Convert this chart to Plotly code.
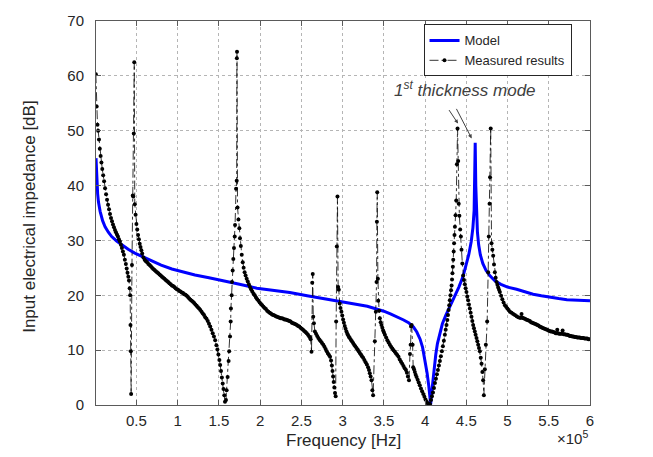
import plotly.graph_objects as go

# ---------------- data ----------------
# Frequency in kHz (axis tick labels are in units of 1e5 Hz), impedance in dB
model_freq = [1, 1.5, 2, 3, 4, 6, 9, 12, 16, 20, 26, 32, 40, 48, 58, 68, 80, 93, 107, 121,
              138, 155, 175, 196, 216, 236, 257, 277, 297, 317, 330, 341, 350, 358, 366, 374,
              380, 386, 390, 394, 397, 400, 402.5, 404.5, 406, 406.8, 407.5, 409, 411, 413,
              415, 418, 421, 425, 430, 436, 441, 446, 450, 453, 456, 458, 459.5, 460.3, 460.8,
              461.5, 462.3, 463.5, 465, 467, 470, 474, 479, 485, 492, 500, 511, 521, 531, 541,
              551, 562, 572, 586, 600]
model_db = [45.0, 42.5, 40.5, 38.5, 37.0, 35.3, 33.6, 32.5, 31.5, 30.7, 29.9, 29.2, 28.4, 27.7,
            27.0, 26.3, 25.5, 24.8, 24.2, 23.7, 23.2, 22.7, 22.0, 21.3, 20.9, 20.5, 19.9, 19.4,
            18.9, 18.4, 18.0, 17.5, 17.1, 16.6, 16.1, 15.5, 15.0, 14.2, 13.3, 12.0, 10.5, 8.2,
            5.8, 3.5, 1.2, 0.1, 1.5, 3.8, 6.6, 9.2, 11.2, 13.2, 14.8, 16.3, 17.9, 19.8, 21.5,
            23.4, 25.5, 27.4, 29.8, 32.3, 35.5, 40.0, 47.8, 40.0, 35.0, 31.5, 29.2, 27.4, 25.8,
            24.5, 23.5, 22.6, 22.0, 21.5, 21.1, 20.6, 20.2, 19.9, 19.6, 19.4, 19.2, 19.1, 19.0]

meas_freq = [
    0.8, 1.8, 2.8, 3.6, 4.6, 5.6, 6.6, 7.6, 8.6, 9.7,
    10.8, 12, 13.2, 14.4, 15.6, 16.8, 18, 19.2, 20.4, 21.6,
    22.8, 24, 25.2, 26.4, 27.6, 28.8, 30, 31.2, 32.4, 33.6,
    34.8, 36, 37.2, 38.2, 39.2, 40.2, 41, 41.8, 42.4, 42.8,
    43.2, 43.6,
    44.6, 45.6, 46.2, 46.8, 47.4,
    48, 49, 50, 51, 52, 53, 54, 55, 56, 57,
    58.5, 60, 61.5, 63, 64.5, 66, 67.5, 69, 70.5, 72,
    73.5, 75, 76.5, 78, 79.5, 81, 82.5, 84, 85.5, 87,
    88.5, 90, 91.5, 93, 94.5, 96, 97.5, 99, 100.5, 102,
    103.5, 105, 106.5, 108, 109.5, 111, 112.5, 114, 115.5, 117,
    118.5, 120, 121.5, 123, 124.5, 126, 127.5, 129, 130.5, 132,
    133.5, 135, 136.5, 138, 139.5, 141, 142.5, 144, 145.5, 147,
    148.2, 149.4, 150.6, 151.6, 152.6, 153.6, 154.6, 155.6, 156.6, 157.4,
    158.6, 159.4, 160.6, 161.8, 162.5, 163.5, 164.3, 164.6, 165.5, 165.9,
    166.7, 167.5, 168.3, 169.2, 169.6, 170.8, 171.6, 171.8, 172.0,
    172.6, 173.7, 174.8, 175.6, 176.6, 177.7, 178.9, 180, 181.2, 182.4,
    183.7, 185, 186.3, 187.7, 189, 190.5, 192, 193.5, 195, 196.5,
    198, 199.5, 201, 202.5, 204, 205.5, 207, 208.5, 210, 211.5,
    213, 214.5, 216, 217.5, 219, 220.5, 222, 223.5, 225, 226.5,
    228, 229.5, 231, 232.5, 234, 235.5, 237, 238.5, 240, 241.5,
    243, 244.5, 246, 247.5, 249, 250.5, 252, 253.5, 255, 256.5,
    258, 259.5, 260.5, 261.3, 262.3,
    263.2, 263.8, 264.4, 265.2, 266.4, 267.8, 269.2, 270.6, 272, 273.5,
    275, 276.6, 278, 279.4, 280.8, 282.2, 283.5, 284.8, 286, 287,
    287.8, 288.5, 289.2, 290, 290.8, 291.6,
    292.2, 293.0, 293.8, 294.6, 295.4, 296.5, 297.5, 298.6, 299.6, 300.6,
    301.6, 302.6, 303.6, 304.7, 305.7, 306.7, 307.7, 308.7, 310, 311.3,
    312.7, 314, 315.4, 316.8, 318.2, 319.5, 320.8, 322.2, 323.5, 324.9,
    326.4, 327.9, 329.4, 330.9, 332, 333, 334, 335.1, 336.1, 337.0,
    339.1, 340.3, 341.2, 341.6, 342.0, 342.8, 343.2, 344.2, 345.2, 346.2,
    347.2, 348.2, 349.2, 350.2, 351.3, 352.8, 354.3, 355.8, 357.3, 358.8,
    360.3, 361.8, 363.3, 364.8, 366.3, 367.8, 369.3, 370.8, 372.3, 373.8,
    375.3, 376.8, 378, 379.2, 380.5,
    381.7, 382.5, 383.0, 383.7, 384.9, 385.6, 386.6, 387.6, 388.6, 389.7,
    391, 392.3, 393.6, 395, 396.4, 397.8, 399.2, 400.6, 402, 403.3,
    404.6, 406.0,
    407.2, 408.4, 409.6, 410.8, 412, 413.2, 414.4, 415.6, 416.8, 418,
    419.2, 420.4, 421.6, 422.8, 424, 425, 426, 427, 427.8, 428.6,
    429.3, 430, 430.8, 431.5, 432.2, 432.7, 433.2, 433.7, 434.2, 434.7,
    435.2, 435.7, 436.2, 437.0, 437.8, 438.6, 439.4,
    440.2, 440.8, 441.6, 442.6, 443.4, 444.2, 445.2, 446.2, 447.2, 448.2,
    449.2, 450.2, 451.2, 452.2, 453.2, 454.3, 455.3, 456.3, 457.3, 458.3,
    459.3, 460.3, 461.3, 462.4, 463.4, 464.4, 465.4, 466.4, 467.5, 468.5,
    469.5, 470.4, 471.3,
    472.5, 473.7, 475.3, 476.5, 477.3, 478.2, 478.8, 479.6,
    480.6, 481.6, 482.6, 483.6, 484.6, 485.6, 486.7, 487.7, 488.7, 489.7,
    490.7, 492.2, 493.7, 495.2, 496.8, 498.3, 499.8, 501.3, 502.9, 504.9,
    506.9, 508.9, 511, 513, 515, 516, 517, 518, 519.5, 521,
    522.5, 524, 525.5, 527, 528.5, 530, 531.5, 533, 534.5, 536,
    537.5, 539, 540.5, 542, 543.5, 545, 546.5, 548, 549.5, 551,
    552.5, 554, 555.5, 557, 558.5, 559.6, 560.3, 561.2, 562.5, 564,
    565.5, 566.8, 568, 569.5, 571, 572.5, 574, 575.5, 577, 578.5,
    580, 581.5, 583, 584.5, 586, 587.5, 589, 590.5, 592, 593.5,
    595, 596.5, 598, 600,
]
meas_db = [
    60.3, 54.4, 51.1, 50.0, 48.4, 46.7, 45.4, 44.2, 43.0, 41.9,
    40.8, 39.5, 38.4, 37.4, 36.5, 35.7, 34.8, 34.1, 33.5, 32.9,
    32.4, 31.9, 31.5, 31.1, 30.7, 30.2, 29.8, 29.2, 28.6, 28.0,
    27.4, 26.5, 25.7, 24.9, 24.1, 23.4, 22.7, 21.3, 20.0, 14.6,
    9.8, 2.0,
    25.5, 38.2, 38.0, 49.5, 62.5,
    36.6, 34.7, 33.0, 32.0, 31.0, 30.2, 29.4, 28.8, 28.2, 27.6,
    26.9, 26.5, 26.2, 26.0, 25.7, 25.5, 25.3, 25.0, 24.8, 24.6,
    24.4, 24.2, 24.0, 23.8, 23.6, 23.4, 23.2, 23.0, 22.8, 22.6,
    22.4, 22.2, 22.0, 21.8, 21.7, 21.5, 21.3, 21.1, 21.0, 20.8,
    20.7, 20.5, 20.4, 20.2, 20.1, 19.9, 19.7, 19.4, 19.2, 19.0,
    18.8, 18.6, 18.3, 18.1, 17.8, 17.6, 17.3, 17.0, 16.7, 16.4,
    16.0, 15.7, 15.3, 14.8, 14.3, 13.7, 13.1, 12.5, 11.8, 10.9,
    10.1, 9.2, 8.2, 7.3, 6.2, 5.0, 3.9, 2.9, 1.8, 0.6,
    0.9, 2.7, 5.1, 8.0, 9.8, 12.5, 15.2, 17.6, 20.0, 22.4,
    24.5, 26.6, 28.6, 30.7, 32.8, 39.4, 40.9, 63.2, 64.4,
    36.0, 33.8, 32.2, 30.4, 29.0, 27.4, 26.0, 25.0, 24.2, 23.6,
    23.0, 22.5, 22.0, 21.5, 21.1, 20.7, 20.3, 20.0, 19.6, 19.3,
    19.0, 18.7, 18.4, 18.2, 17.9, 17.7, 17.5, 17.2, 17.0, 16.8,
    16.7, 16.5, 16.4, 16.3, 16.2, 16.1, 16.0, 15.9, 15.8, 15.8,
    15.7, 15.6, 15.6, 15.5, 15.4, 15.3, 15.2, 15.0, 14.9, 14.8,
    14.7, 14.6, 14.4, 14.3, 14.1, 13.9, 13.7, 13.5, 13.3, 13.1,
    12.8, 12.5, 12.3, 12.0, 9.7,
    22.3, 23.9, 16.1, 14.9, 13.4, 13.0, 12.6, 12.2, 11.9, 11.6,
    11.3, 11.0, 10.6, 10.2, 9.8, 9.4, 9.1, 8.8, 8.1, 7.2,
    6.2, 5.2, 4.2, 3.2, 2.2, 1.6,
    15.2, 28.9, 38.0, 21.5, 21.0, 18.5, 17.7, 17.0, 16.3, 15.6,
    15.0, 14.4, 13.9, 13.4, 13.0, 12.7, 12.4, 12.2, 11.9, 11.6,
    11.3, 11.0, 10.7, 10.4, 10.1, 9.8, 9.5, 9.2, 8.9, 8.6,
    8.2, 7.8, 7.4, 6.9, 6.4, 5.8, 5.2, 4.5, 2.7, 1.8,
    11.6, 17.0, 22.4, 33.4, 38.8, 23.0, 19.0, 17.2, 15.8, 15.1,
    14.6, 14.1, 13.6, 13.2, 12.8, 12.3, 11.8, 11.4, 11.0, 10.6,
    10.3, 10.0, 9.7, 9.4, 9.1, 8.8, 8.3, 7.9, 7.5, 7.1,
    6.7, 6.4, 5.9, 5.2, 4.5,
    9.3, 11.0, 14.3, 14.6, 11.0, 6.9, 6.5, 6.0, 5.5, 5.1,
    4.6, 4.1, 3.6, 3.0, 2.5, 2.0, 1.5, 1.0, 0.6, 0.3,
    0.1, 0.2,
    0.9, 1.6, 2.3, 3.1, 4.0, 4.8, 5.6, 6.4, 7.2, 8.0,
    8.9, 9.8, 10.7, 11.7, 12.8, 13.7, 14.6, 15.5, 16.4, 17.3,
    18.2, 19.1, 20.0, 20.9, 21.8, 22.9, 24.0, 25.2, 26.5, 28.0,
    29.5, 31.0, 32.5, 34.6, 37.3, 43.9, 50.4,
    44.5, 36.7, 34.5, 32.0, 30.7, 28.3, 25.8, 23.6, 22.8, 22.0,
    21.3, 20.6, 19.8, 19.1, 18.3, 17.6, 16.8, 16.1, 15.3, 14.6,
    14.0, 13.4, 12.8, 12.2, 11.6, 11.0, 10.4, 9.8, 8.6, 7.5,
    6.0, 4.5, 1.8,
    6.5, 11.0, 15.2, 24.2, 30.7, 36.7, 41.5, 50.4,
    29.5, 28.3, 27.2, 25.6, 24.2, 23.2, 22.4, 21.9, 21.4, 21.0,
    20.6, 19.9, 19.3, 18.7, 18.2, 17.9, 17.6, 17.3, 17.0, 16.8,
    16.6, 16.4, 16.2, 16.0, 15.9, 15.9, 16.6, 15.9, 15.8, 15.7,
    15.6, 15.5, 15.4, 15.3, 15.1, 15.0, 14.9, 14.8, 14.7, 14.6,
    14.5, 14.3, 14.2, 14.1, 14.0, 13.9, 13.8, 13.7, 13.6, 13.5,
    13.4, 13.4, 13.3, 13.2, 13.1, 13.1, 13.7, 13.1, 13.0, 13.0,
    13.0, 13.6, 12.9, 12.9, 12.8, 12.8, 12.7, 12.6, 12.6, 12.5,
    12.5, 12.4, 12.4, 12.3, 12.3, 12.3, 12.2, 12.2, 12.2, 12.1,
    12.1, 12.1, 12.0, 12.0,
]
assert len(meas_freq) == len(meas_db), (len(meas_freq), len(meas_db))
assert len(model_freq) == len(model_db), (len(model_freq), len(model_db))

x_tick_vals = [50, 100, 150, 200, 250, 300, 350, 400, 450, 500, 550, 600]
x_tick_text = ["0.5", "1", "1.5", "2", "2.5", "3", "3.5", "4", "4.5", "5", "5.5", "6"]
y_tick_vals = [0, 10, 20, 30, 40, 50, 60, 70]

FONT = "Liberation Sans, Arial, sans-serif"
TXT = "#262626"

fig = go.Figure()
fig.add_trace(go.Scatter(
    x=model_freq, y=model_db, mode="lines", name="Model",
    line=dict(color="rgb(0,0,255)", width=3)))
fig.add_trace(go.Scatter(
    x=meas_freq, y=meas_db, mode="lines+markers", name="Measured results",
    line=dict(color="black", width=0.8, dash="dashdot"),
    marker=dict(color="black", size=4)))

axis_common = dict(
    showline=True, linecolor="#5a5a5a", linewidth=1, mirror="allticks",
    ticks="inside", ticklen=5, tickcolor="#5a5a5a", tickwidth=1,
    showgrid=True, gridcolor="#b5b5b5", griddash="dot", gridwidth=1,
    zeroline=False, tickfont=dict(family=FONT, size=15, color=TXT),
)

fig.update_layout(
    width=653, height=457,
    margin=dict(l=96, r=63, t=14, b=52),
    paper_bgcolor="white", plot_bgcolor="white",
    font=dict(family=FONT, color=TXT),
    xaxis=dict(range=[1, 600], tickvals=x_tick_vals, ticktext=x_tick_text,
               ticklabelstandoff=2, **axis_common),
    yaxis=dict(range=[0, 70], tickvals=y_tick_vals, ticklabelstandoff=8, **axis_common),
    legend=dict(x=0.663, y=0.991, xanchor="left", yanchor="top",
                bgcolor="white", bordercolor="#262626", borderwidth=1,
                font=dict(family=FONT, size=13, color=TXT),
                itemwidth=30, tracegroupgap=0),
    showlegend=True,
)

annotations = [
    dict(text="Frequency [Hz]", x=0.5, y=-0.092, xref="paper", yref="paper",
         xanchor="center", yanchor="middle", showarrow=False,
         font=dict(family=FONT, size=17, color=TXT)),
    dict(text="Input electrical impedance [dB]", x=-0.1336, y=0.49, xref="paper", yref="paper",
         xanchor="center", yanchor="middle", showarrow=False, textangle=-90,
         font=dict(family=FONT, size=17, color=TXT)),
    dict(text="×10<sup>5</sup>", x=1.0, y=-0.085, xref="paper", yref="paper",
         xanchor="right", yanchor="middle", showarrow=False,
         font=dict(family=FONT, size=15, color=TXT)),
    dict(text="<i>1<sup>st</sup> thickness mode</i>", x=449, y=57.6, xref="x", yref="y",
         xanchor="center", yanchor="middle", showarrow=False,
         font=dict(family=FONT, size=17, color="#404040")),
    dict(text="", x=440, y=51.3, xref="x", yref="y", showarrow=True,
         ax=-10, ay=-15, arrowhead=2, arrowsize=0.8, arrowwidth=1, arrowcolor="#404040"),
    dict(text="", x=456.5, y=48.6, xref="x", yref="y", showarrow=True,
         ax=-16, ay=-31, arrowhead=2, arrowsize=0.8, arrowwidth=1, arrowcolor="#404040"),
]
fig.update_layout(annotations=annotations)

fig.write_html("out.html")
